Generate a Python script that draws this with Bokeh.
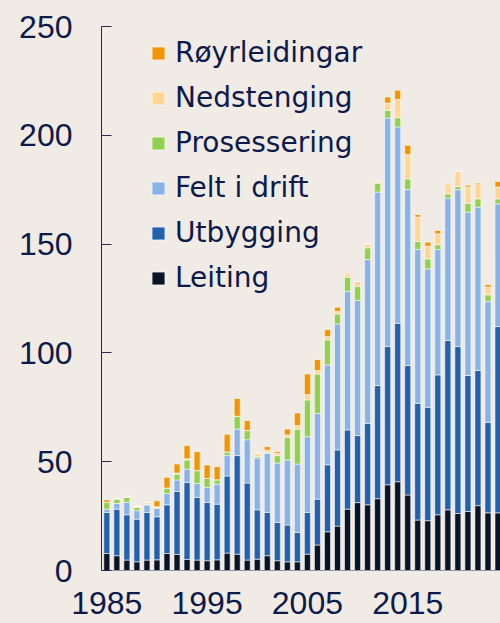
from bokeh.plotting import figure
from bokeh.models import (ColumnDataSource, Legend, LegendItem, FixedTicker,
                          Range1d, GlobalInlineStyleSheet)
from bokeh.embed import file_html
from bokeh.resources import INLINE

years = list(range(1985, 2025))

leiting = [7.8, 6.8, 4.8, 4.0, 4.8, 4.9, 7.8, 7.4, 5.1, 4.8,
           4.5, 4.9, 8.0, 7.5, 4.8, 5.2, 6.8, 4.5, 4.0, 4.0,
           7.5, 11.7, 17.8, 20.4, 28.2, 31.2, 30.2, 33.0, 39.4, 40.8,
           34.7, 23.2, 22.9, 25.6, 27.9, 26.2, 27.1, 29.8, 26.5, 26.5]
utbygging = [18.9, 21.4, 20.8, 19.6, 21.9, 19.8, 22.4, 28.9, 35.4, 28.8,
             26.8, 25.6, 35.4, 45.3, 35.4, 22.7, 19.9, 17.6, 16.9, 13.5,
             19.2, 21.1, 30.8, 35.0, 36.4, 30.8, 37.4, 52.0, 63.5, 72.8,
             59.5, 53.6, 52.1, 64.3, 77.8, 76.7, 62.5, 62.1, 41.6, 85.6]
felt = [1.5, 2.6, 5.7, 3.9, 3.4, 3.8, 5.2, 5.3, 6.1, 6.4,
        6.9, 9.2, 9.4, 12.2, 19.9, 23.8, 27.1, 27.3, 29.9, 31.4,
        34.8, 39.4, 45.9, 57.9, 63.7, 62.1, 75.3, 88.9, 105.0, 90.2,
        80.9, 70.7, 63.6, 57.6, 65.4, 72.1, 75.1, 75.1, 55.5, 56.4]
prosessering = [3.1, 2.0, 2.3, 1.5, 0.3, 0.5, 2.5, 2.7, 4.2, 5.9,
                4.1, 2.0, 1.7, 5.9, 4.2, 0.7, 0.5, 3.4, 10.4, 16.1,
                16.9, 18.1, 11.5, 4.6, 6.5, 6.5, 5.4, 4.1, 3.6, 4.3,
                4.9, 3.7, 4.6, 2.2, 2.0, 1.5, 4.1, 3.8, 3.1, 2.3]
nedstenging = [0.0, 0.3, 0.6, 0.5, 0.8, 0.3, 0.0, 0.5, 0.5, 0.0,
               0.0, 0.0, 0.0, 0.0, 0.0, 1.4, 1.0, 1.0, 1.1, 1.6,
               2.4, 1.6, 1.5, 1.1, 1.5, 2.2, 1.8, 0.9, 3.3, 8.4,
               11.2, 11.2, 5.8, 5.0, 4.2, 7.0, 7.4, 6.5, 3.5, 5.4]
royrleidingar = [1.1, 0.0, 0.0, 0.0, 0.0, 2.7, 4.9, 4.1, 6.1, 8.7,
                 6.2, 6.0, 8.1, 8.2, 4.6, 0.0, 1.6, 0.8, 2.7, 5.8,
                 9.5, 5.0, 3.2, 2.0, 0.3, 0.0, 0.0, 0.0, 2.8, 4.2,
                 4.2, 1.1, 1.9, 1.6, 0.4, 0.0, 0.8, 0.7, 1.2, 2.6]

series_keys = ["leiting", "utbygging", "felt", "prosessering", "nedstenging", "royrleidingar"]
series_names = ["Leiting", "Utbygging", "Felt i drift", "Prosessering", "Nedstenging", "Røyrleidingar"]
colors = ["#0A1427", "#2260B0", "#88B3E8", "#92D050", "#FFD693", "#F29500"]
y_ticks = [0, 50, 100, 150, 200, 250]
x_ticks = [1985, 1995, 2005, 2015]

BG = "#F0EBE4"
TXT = "#0D1A4B"

source = ColumnDataSource(dict(year=years, leiting=leiting, utbygging=utbygging, felt=felt,
                               prosessering=prosessering, nedstenging=nedstenging,
                               royrleidingar=royrleidingar))

p = figure(width=500, height=623, output_backend="svg", toolbar_location=None,
           x_range=Range1d(1984.47, 2024.25), y_range=Range1d(0, 250),
           min_border_left=101, min_border_right=0, min_border_top=26, min_border_bottom=53)
p.stylesheets = [GlobalInlineStyleSheet(css=f"html, body {{ background-color: {BG}; }}")]

renderers = p.vbar_stack(series_keys, x="year", width=0.6, color=colors, source=source,
                         line_color="white", line_width=0.8, line_alpha=0.7)

p.background_fill_color = BG
p.border_fill_color = BG
p.outline_line_color = None
p.grid.grid_line_color = None

p.yaxis.ticker = FixedTicker(ticks=y_ticks)
p.yaxis.major_tick_in = 10
p.yaxis.major_tick_out = 0
p.yaxis.minor_tick_line_color = None
p.yaxis.major_tick_line_color = "#23284F"
p.yaxis.axis_line_color = "#23284F"
p.yaxis.major_label_standoff = 29
p.yaxis.major_label_text_font = "Liberation Sans"
p.yaxis.major_label_text_font_size = "32px"
p.yaxis.major_label_text_color = TXT

p.xaxis.ticker = FixedTicker(ticks=x_ticks)
p.xaxis.major_tick_line_color = None
p.xaxis.minor_tick_line_color = None
p.xaxis.axis_line_color = "#8E93AA"
p.xaxis.major_label_standoff = 15
p.xaxis.major_label_text_font = "Liberation Sans"
p.xaxis.major_label_text_font_size = "32px"
p.xaxis.major_label_text_color = TXT

items = [LegendItem(label=n, renderers=[r]) for n, r in zip(series_names, renderers)]
items.reverse()
legend = Legend(items=items, location=(49, 276), orientation="vertical",
                glyph_width=16, glyph_height=16, label_standoff=9, spacing=12,
                padding=0, margin=0, border_line_color=None, background_fill_alpha=0,
                label_text_font="DejaVu Sans", label_text_font_size="28px",
                label_text_color=TXT)
p.add_layout(legend, "center")

open("out.html", "w").write(file_html(p, INLINE))
